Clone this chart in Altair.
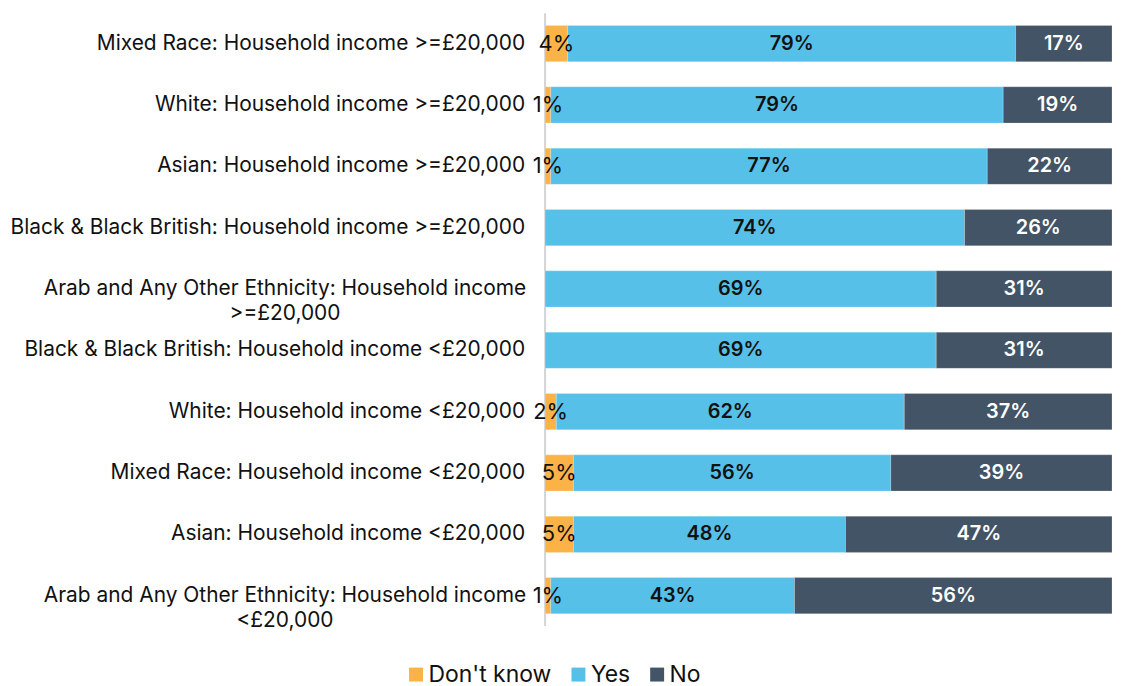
import altair as alt
import pandas as pd

categories = [
    "Mixed Race: Household income >=£20,000",
    "White: Household income >=£20,000",
    "Asian: Household income >=£20,000",
    "Black & Black British: Household income >=£20,000",
    "Arab and Any Other Ethnicity: Household income\n>=£20,000",
    "Black & Black British: Household income <£20,000",
    "White: Household income <£20,000",
    "Mixed Race: Household income <£20,000",
    "Asian: Household income <£20,000",
    "Arab and Any Other Ethnicity: Household income\n<£20,000",
]
dont_know = [4, 1, 1, 0, 0, 0, 2, 5, 5, 1]
yes = [79, 79, 77, 74, 69, 69, 62, 56, 48, 43]
no = [17, 19, 22, 26, 31, 31, 37, 39, 47, 56]

series = ["Don't know", "Yes", "No"]
colors = ["#FBB347", "#56C0E8", "#435466"]

rows = []
for i, cat in enumerate(categories):
    vals = [dont_know[i], yes[i], no[i]]
    total = sum(vals)
    start = 0.0
    for s, v in zip(series, vals):
        rows.append({
            "cat": cat,
            "key": str(i),
            "series": s,
            "value": v,
            "start": start / total,
            "end": (start + v) / total,
            "mid": (start + v / 2) / total,
            "label": f"{v}%" if v > 0 else "",
            "order": series.index(s),
        })
        start += v
df = pd.DataFrame(rows)
lab = pd.DataFrame({"key": [str(i) for i in range(len(categories))], "cat": categories})
lab["multi"] = lab["cat"].str.contains("\n")

W, H = 569, 615
keys = [str(i) for i in range(len(categories))]
FONT = "Inter"

y = alt.Y("key:N", sort=keys, axis=None,
          scale=alt.Scale(domain=keys, paddingInner=0.41, paddingOuter=0.2))
xs = alt.Scale(domain=[0, 1], nice=False, zero=True)

bars = alt.Chart(df).mark_bar(stroke="white", strokeWidth=0.5, strokeOpacity=0.4).encode(
    x=alt.X("start:Q", scale=xs, axis=None),
    x2="end:Q",
    y=y,
    color=alt.Color("series:N", sort=series,
                    scale=alt.Scale(domain=series, range=colors),
                    legend=alt.Legend(title=None, orient="none", direction="horizontal",
                                      legendX=-141, legendY=652,
                                      symbolType="square", symbolSize=196, symbolStrokeWidth=0,
                                      labelFont=FONT, labelFontSize=23, labelColor="#111",
                                      columnPadding=15, symbolOffset=0, labelOffset=1)),
    order="order:Q",
)

axisline = alt.Chart(pd.DataFrame({"a": [0]})).mark_rule(color="#d4d4d4", strokeWidth=2).encode(
    x=alt.value(0), y=alt.value(0), y2=alt.value(H))

def txt(s, color, weight, size):
    return alt.Chart(df).transform_filter(alt.datum.series == s).mark_text(
        font=FONT, fontSize=size, fontWeight=weight, color=color, baseline="middle"
    ).encode(x=alt.X("mid:Q", scale=xs), y=y, text="label:N")

t_dk = txt("Don't know", "#111", "normal", 22)
t_yes = txt("Yes", "#111", 600, 20)
t_no = txt("No", "white", 600, 20)

single = alt.Chart(lab).transform_filter("!datum.multi").mark_text(
    font=FONT, fontSize=21, color="#111", align="right", baseline="middle"
).encode(x=alt.value(-20), y=y, text="cat:N")

multi = alt.Chart(lab).transform_filter("datum.multi").mark_text(
    font=FONT, fontSize=21, color="#111", align="center", baseline="middle",
    lineBreak="\n", lineHeight=25
).encode(x=alt.value(-261), y=y, text="cat:N")

chart = alt.layer(axisline, bars, t_dk, t_yes, t_no, single, multi).properties(
    width=W, height=H, background="white",
    padding={"top": 3, "left": 2, "right": 0, "bottom": 0}
).configure_view(strokeWidth=0, stroke=None)

chart.save("out.html", embed_options={"renderer": "svg", "actions": False})
